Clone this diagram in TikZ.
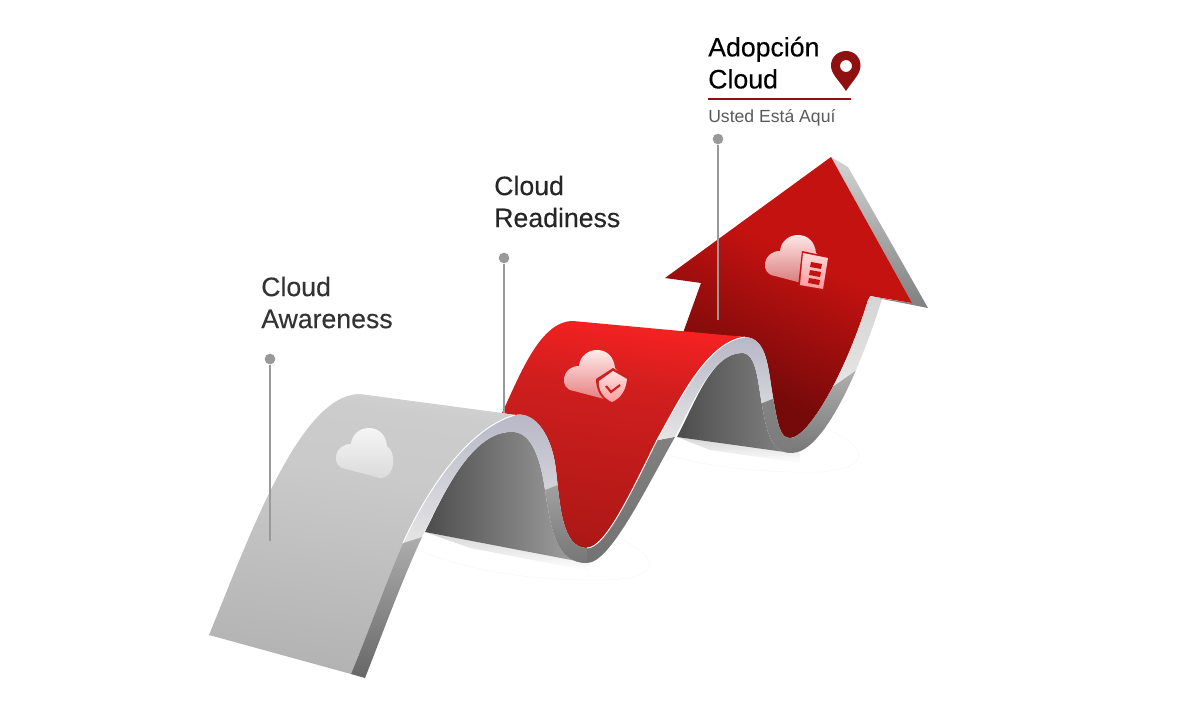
\documentclass[tikz,border=0pt]{standalone}
\usepackage{fontspec}
\usepackage{xcolor}
\setmainfont{Liberation Sans}
\definecolor{pinred}{HTML}{8F1010}
\definecolor{leadgray}{HTML}{999999}
\definecolor{ridge}{HTML}{B6B6C6}
\definecolor{shine}{HTML}{E6E6E6}
\definecolor{arrowtop}{HTML}{C41210}
\definecolor{arrowlow}{HTML}{760A0A}
\definecolor{ribtop}{HTML}{FF2222}
\definecolor{ribmid}{HTML}{D01E1E}
\definecolor{riblow}{HTML}{AC1816}
\pgfdeclareverticalshading{arrowred}{100bp}{color(0bp)=(arrowlow); color(32bp)=(arrowlow); color(58bp)=(arrowtop); color(100bp)=(arrowtop)}
\pgfdeclareverticalshading{grayrib}{100bp}{color(0bp)=(black!30); color(25bp)=(black!30); color(60bp)=(black!21); color(72bp)=(black!20); color(85bp)=(black!12); color(100bp)=(black!12)}
\pgfdeclareverticalshading{redrib}{100bp}{color(0bp)=(riblow); color(25bp)=(riblow); color(60bp)=(ribmid); color(78bp)=(ribtop); color(100bp)=(ribtop)}
\tikzset{
  leader/.style={draw=leadgray,line width=1.5pt},
  pindot/.style={circle,fill=leadgray,inner sep=0pt,minimum size=8pt},
  steplabel/.style={anchor=north west,inner sep=0pt,align=left,font=\fontsize{20}{24}\selectfont\addfontfeature{FakeBold=0.25}},
  edgeline/.style={draw=white,line width=0.7pt},
  groundline/.style={draw=black!3,line width=0.4pt},
}
\newcommand{\frontA}{.. controls (370,628) and (385,585) .. (403,543) .. controls (420,505) and (462,430) .. (515,415)}
\newcommand{\frontB}{.. controls (535,411) and (552,435) .. (556,470) .. controls (560,505) and (562,548) .. (587,548) .. controls (605,548) and (630,495) .. (657,440) .. controls (682,395) and (708,342) .. (745,337)}
\newcommand{\frontC}{.. controls (768,338) and (768,370) .. (773,397) .. controls (778,425) and (780,438) .. (790,438) .. controls (808,438) and (845,375) .. (868,300)}
\newcommand{\backC}{.. controls (855,385) and (820,453) .. (792,453) .. controls (772,453) and (767,435) .. (762,405) .. controls (758,385) and (757,353) .. (742,353) .. controls (712,353) and (693,403) .. (675,437)}
\newcommand{\backB}{.. controls (645,490) and (610,563) .. (587,563) .. controls (556,563) and (551,530) .. (545,490) .. controls (540,455) and (530,430) .. (510,432)}
\newcommand{\backA}{.. controls (470,433) and (440,500) .. (422,537) .. controls (400,585) and (382,635) .. (365,678)}
\newcommand{\cloudshape}{(346,469) .. controls (338,468) and (335,462) .. (336,456) .. controls (337,449) and (343,444) .. (351,444) .. controls (352,434) and (360,428) .. (369,428) .. controls (379,428) and (386,435) .. (387,446) .. controls (391,449) and (394,455) .. (393,463) .. controls (393,471) and (388,478) .. (380,478) -- cycle}
\begin{document}
\begin{tikzpicture}[x=0.75pt,y=-0.75pt]
  \useasboundingbox (0,0) rectangle (1200,713);

  \path[groundline] (417,550) .. controls (470,570) and (520,580) .. (600,580) .. controls (650,580) and (670,565) .. (623,540);
  \path[groundline] (667,455) .. controls (720,470) and (780,473) .. (820,472) .. controls (870,468) and (870,450) .. (830,430);
  \shade[top color=black!16,bottom color=white] (425,532) -- (590,563) -- (590,571) -- (470,548) -- cycle;
  \shade[top color=black!16,bottom color=white] (677,437) -- (800,453) -- (800,463) -- (710,450) -- cycle;

  \shade[top color=black!17,bottom color=black!50] (831,157) -- (848,167) -- (928,308) -- (882,299) -- (873,297) -- (912,303) -- cycle;

  \shade[left color=black!70,right color=black!48] (677,437) .. controls (695,403) and (712,353) .. (742,353) .. controls (757,353) and (758,385) .. (762,405) .. controls (767,435) and (772,453) .. (792,453) -- cycle;
  \shade[left color=black!70,right color=black!35] (425,532) .. controls (442,498) and (470,433) .. (510,432) .. controls (530,430) and (540,455) .. (545,490) .. controls (551,530) and (556,563) .. (587,563) -- cycle;

  \shade[shading=arrowred,shading angle=-25] (745,337) \frontC -- (870,296) -- (912,303) -- (831,157) -- (665,278) -- (701,283) -- (683,333) -- cycle;
  \shade[shading=redrib,shading angle=-8] (515,415) \frontB -- (573,321) .. controls (540,321) and (520,375) .. (502,413) -- cycle;
  \shade[shading=grayrib,shading angle=-8] (351,674) \frontA -- (502,413) -- (360,394) .. controls (300,394) and (250,535) .. (209,635) -- cycle;

  \begin{scope}
    \clip (351,674) \frontA \frontB \frontC -- (871,296) -- (882,299) \backC \backB \backA -- cycle;
    \shade[top color=black!32,bottom color=black!62] (395,537) -- (430,537) -- (400,690) -- (330,690) -- cycle;
    \shade[top color=ridge,bottom color=shine] (395,545.5) -- (430,534.5) -- (535,494) -- (570,480) -- (570,410) -- (395,410) -- cycle;
    \shade[top color=black!36,bottom color=black!55] (535,494) -- (570,480) -- (587,480) -- (587,570) -- (535,570) -- cycle;
    \shade[top color=black!50,middle color=black!28,bottom color=black!55] (587,480) -- (650,441.5) -- (685,435) -- (685,565) -- (587,565) -- cycle;
    \shade[top color=ridge,bottom color=shine] (650,441.5) -- (685,435) -- (750,408) -- (790,392) -- (790,335) -- (650,335) -- cycle;
    \shade[top color=black!48,bottom color=black!52] (750,408) -- (790,392) -- (792,392) -- (792,460) -- (750,460) -- cycle;
    \shade[top color=black!30,bottom color=black!55] (792,415) -- (835,385) -- (862,366) -- (862,460) -- (792,460) -- cycle;
    \shade[top color=black!17,bottom color=black!10] (832,387) -- (862,366) -- (890,366) -- (890,290) -- (832,290) -- cycle;
  \end{scope}
  \path[edgeline] (403,543) .. controls (420,505) and (462,430) .. (515,415);
  \path[edgeline] (587,548) .. controls (605,548) and (630,495) .. (657,440) .. controls (682,395) and (708,342) .. (745,337);

  \shade[top color=white!96!black,bottom color=white!86!black] \cloudshape;
  \shade[top color=red!8!white,bottom color=red!45!white!90!black,shift={(228,-78)}] \cloudshape;
  \shade[top color=red!10!white,bottom color=red!45!white!85!black,shift={(429,-193)}] \cloudshape;

  \fill[ribmid] (613,368) -- (629,377) .. controls (629,390) and (623,400) .. (612,404) .. controls (601,400) and (596,390) .. (596,379) -- cycle;
  \shade[top color=red!12!white,bottom color=red!38!white] (613,371) -- (627,379) .. controls (626,390) and (621,398) .. (612,402) .. controls (603,398) and (598,390) .. (599,381) -- cycle;
  \draw[ribmid,line width=1.6pt] (606,386) -- (611,392) -- (620,385);

  \fill[arrowtop] (802,251) -- (830,257) -- (824,291) -- (798,286) -- cycle;
  \shade[top color=red!15!white,bottom color=red!40!white] (803,253) -- (828,258) -- (823,289) -- (800,285) -- cycle;
  \foreach \barx/\bary in {811/262,810/270,809/278}
    \fill[arrowtop] (\barx,\bary) -- ++(11,2) -- ++(-1,5) -- ++(-11,-2) -- cycle;

  \node[pindot] (dot_a) at (270,359) {};
  \node[pindot] (dot_r) at (504,258) {};
  \node[pindot] (dot_c) at (718,139) {};
  \coordinate (foot_a) at (270,541);
  \coordinate (foot_r) at (504,413);
  \coordinate (foot_c) at (718,320);
  \draw[leader] (dot_a) -- (foot_a);
  \draw[leader] (dot_r) -- (foot_r);
  \draw[leader] (dot_c) -- (foot_c);

  \node[steplabel,text=black!80] (awareness) at (261,276.5) {Cloud\\Awareness};
  \node[steplabel,text=black!85] (readiness) at (494,175.5) {Cloud\\Readiness};
  \node[steplabel,text=black] (adopcion) at (708,36.5) {Adopción\\Cloud};
  \node[anchor=base west,inner sep=0pt,text=black!65,font=\fontsize{13.2}{16}\selectfont] (here) at (708,122.5) {Usted Está Aquí};
  \coordinate (rule_l) at (708,99);
  \coordinate (rule_r) at (851,99);
  \draw[pinred,line width=1.5pt] (rule_l) -- (rule_r);

  \fill[pinred,even odd rule] (846,91) .. controls (838,79) and (831,74) .. (831,65.5) .. controls (831,57) and (838,51) .. (846,51) .. controls (854,51) and (860.5,57) .. (860.5,65.5) .. controls (860.5,74) and (854,79) .. (846,91) -- cycle (846,66) circle[radius=6];
\end{tikzpicture}
\end{document}
